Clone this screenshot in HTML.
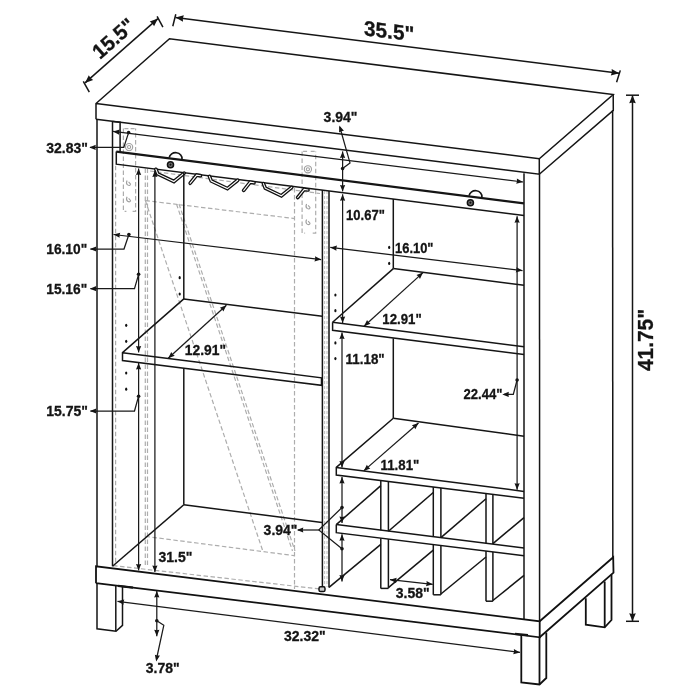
<!DOCTYPE html>
<html><head><meta charset="utf-8"><style>
html,body{margin:0;padding:0;background:#fff;width:700px;height:700px;overflow:hidden}
svg{display:block;filter:grayscale(1)}
text{font-family:"Liberation Sans",sans-serif;font-weight:bold;fill:#141414;stroke:#141414;stroke-width:0.3}
.kb{stroke:#111;stroke-width:1.8;fill:none;stroke-linejoin:miter}
.k{stroke:#151515;stroke-width:1.5;fill:none;stroke-linejoin:miter}
.k2{stroke:#151515;stroke-width:2.2;fill:none}
.k3{stroke:#151515;stroke-width:2.4;fill:none}
.d{stroke:#1a1a1a;stroke-width:1.25;fill:none}
.ah{fill:#151515;stroke:none}
.dt{fill:#151515}
.g{stroke:#adadad;stroke-width:1.2;fill:none;stroke-dasharray:4.5 2.5}
.g2{stroke:#b8b8b8;stroke-width:0.9;fill:none;stroke-dasharray:3 2}
.gs{stroke:#b0b0b0;stroke-width:0.9;fill:none}
.gs2{stroke:#a0a0a0;stroke-width:1.1;fill:none}
.kn{stroke:#151515;stroke-width:1.7;fill:none}
.w1{stroke:#111;stroke-width:3.7;fill:none;stroke-linejoin:miter;stroke-linecap:round}
.w2{stroke:#fff;stroke-width:1.1;fill:none;stroke-linejoin:miter;stroke-linecap:round}
</style></head><body>
<svg width="700" height="700" viewBox="0 0 700 700">
<rect width="700" height="700" fill="#fff"/>
<line class="g" x1="115.6" y1="165.7" x2="115.6" y2="566" />
<line class="g" x1="145.3" y1="168.6" x2="145.3" y2="566" />
<line class="g" x1="147.5" y1="168.6" x2="147.5" y2="566" />
<line class="g" x1="145.4" y1="200.6" x2="295" y2="218.6" />
<line class="g" x1="294.5" y1="188" x2="294.5" y2="589" />
<line class="g" x1="145.4" y1="200.6" x2="262.7" y2="550.7" />
<line class="g" x1="176.5" y1="204" x2="292.5" y2="551" />
<line class="g" x1="179" y1="204" x2="295" y2="551" />
<line class="g" x1="145.5" y1="536.4" x2="294" y2="555.6" />
<line class="g" x1="113.1" y1="565.6" x2="320" y2="589" />
<line class="g2" x1="324.6" y1="191" x2="324.6" y2="587" />
<line class="g2" x1="327" y1="191" x2="327" y2="587" />
<line class="g" x1="150" y1="171" x2="320" y2="193.5" />
<path class="g" d="M123.4,128.6 V211.4 h3 M132.6,211.4 h3 V128.6"/>
<path class="g" d="M124.4,128.6 h4 M130.6,128.6 h4"/>
<circle class="gs2" cx="129.1" cy="147.1" r="3.6"/><circle class="gs2" cx="129.1" cy="147.1" r="1.6"/>
<path class="gs2" d="M127.1,180.4 q-1.5,3 0.5,4.5 q2.5,1.5 3,-1 M128.6,181.9 l2,2.2"/>
<path class="gs2" d="M127.1,196.8 q-1.5,3 0.5,4.5 q2.5,1.5 3,-1 M128.6,198.3 l2,2.2"/>
<path class="g" d="M302.1,151.4 V233.2 h3 M312.7,233.2 h3 V151.4"/>
<path class="g" d="M303.1,151.4 h4 M310.7,151.4 h4"/>
<circle class="gs2" cx="307.9" cy="169.3" r="3.6"/><circle class="gs2" cx="307.9" cy="169.3" r="1.6"/>
<path class="gs2" d="M306.6,203.9 q-1.5,3 0.5,4.5 q2.5,1.5 3,-1 M308.1,205.4 l2,2.2"/>
<path class="gs2" d="M306.6,219.6 q-1.5,3 0.5,4.5 q2.5,1.5 3,-1 M308.1,221.1 l2,2.2"/>
<polyline class="k" points="96,119.3 96,103.5 169.5,38.8 613.2,94.6 539.3,158.7 96,103.5"/>
<polyline class="k" points="96,119.3 539.3,174.2 539.3,158.7"/>
<polyline class="k" points="613.2,94.6 613.3,110.3 539.3,174.2"/>
<line class="k" x1="97" y1="119.3" x2="97" y2="566.3" />
<line class="k" x1="112.5" y1="121.6" x2="112.5" y2="566.3" />
<polyline class="k" points="112.5,121.6 120.1,122.3 120.1,151.5"/>
<line class="k" x1="539.5" y1="174.2" x2="539.6" y2="621.3" />
<line class="k" x1="612.6" y1="110.3" x2="612.8" y2="557.2" />
<line class="k" x1="524" y1="173.3" x2="524" y2="620" />
<polyline class="kb" points="96,583.2 96,566.3 539.7,621.3 539.7,637.3 96,583.2"/>
<polyline class="kb" points="539.7,621.3 613.2,557.2 613.5,572.6 539.7,637.3"/>
<polyline class="k" points="97,583.5 97,628.8 116,631.3 122.5,625.3 122.5,586"/>
<line class="k" x1="115.8" y1="585.5" x2="115.8" y2="631" />
<line class="k2" x1="118" y1="585.8" x2="133" y2="587.6"/>
<polyline class="kb" points="521.3,635 521.3,682.5 539.5,684.5 546.3,678 546.3,632.5"/>
<line class="kb" x1="539.5" y1="637.3" x2="539.5" y2="684.5" />
<polyline class="kb" points="585.8,598.3 585.8,624.7 604.7,627.3 611.5,620 611.5,574.8"/>
<line class="kb" x1="604.7" y1="581.5" x2="604.7" y2="627.3" />
<line class="k2" x1="515" y1="633.8" x2="528" y2="635.2"/>
<line class="k3" x1="116.3" y1="151.6" x2="524" y2="203.4"/>
<polyline class="k" points="116.3,151.6 116.3,164.2 524,215.4"/>
<path class="kn" d="M169.2,157.7 A6.3,5.6 0 0,1 182,159.2"/>
<circle cx="170.5" cy="164.7" r="3.0" fill="#777" stroke="#111" stroke-width="1.6"/><circle cx="170.5" cy="164.7" r="1.1" fill="#111"/>
<path class="kn" d="M469.1,195.7 A6.3,5.6 0 0,1 481.9,197.2"/>
<circle cx="470.4" cy="202.7" r="3.0" fill="#777" stroke="#111" stroke-width="1.6"/><circle cx="470.4" cy="202.7" r="1.1" fill="#111"/>
<polyline class="w1" points="155.9,169.3 157.8,173.9 173.9,181.5 184.2,173.1"/>
<polyline class="w2" points="155.9,169.3 157.8,173.9 173.9,181.5 184.2,173.1"/>
<polyline class="w1" points="190.2,183.2 196.7,175.1 200.5,175.7"/>
<polyline class="w2" points="190.2,183.2 196.7,175.1 200.5,175.7"/>
<polyline class="w1" points="209.4,176.4 211.3,181 227.4,188.6 237.7,180.2"/>
<polyline class="w2" points="209.4,176.4 211.3,181 227.4,188.6 237.7,180.2"/>
<polyline class="w1" points="243.7,190.3 250.2,182.2 254,182.8"/>
<polyline class="w2" points="243.7,190.3 250.2,182.2 254,182.8"/>
<polyline class="w1" points="263.4,183.6 265.3,188.2 281.4,195.8 291.7,187.4"/>
<polyline class="w2" points="263.4,183.6 265.3,188.2 281.4,195.8 291.7,187.4"/>
<polyline class="w1" points="297.7,197.5 304.2,189.4 308,190"/>
<polyline class="w2" points="297.7,197.5 304.2,189.4 308,190"/>
<line class="k" x1="183.8" y1="172.6" x2="183.8" y2="298.9" />
<line class="k" x1="183.8" y1="368.2" x2="183.8" y2="504.8" />
<line class="k" x1="183.8" y1="298.9" x2="322.3" y2="316.3" />
<line class="k" x1="183.8" y1="504.8" x2="322" y2="522.6" />
<line class="k" x1="183.8" y1="504.8" x2="112.5" y2="566.3" />
<polyline class="k" points="183.8,298.9 122.5,352.7 122.5,360.5 321.5,385.3 321.5,377.8 122.5,352.7"/>
<line class="k" x1="322.4" y1="190" x2="322.4" y2="587.4" />
<line class="k" x1="329" y1="191" x2="329" y2="587.4" />
<rect x="319" y="586.8" width="6" height="4.8" rx="1.6" fill="#ccc" stroke="#111" stroke-width="1.5"/>
<line class="k" x1="393.3" y1="199" x2="393.3" y2="268.6" />
<line class="k" x1="393.3" y1="338.4" x2="393.3" y2="418.2" />
<line class="k" x1="393.3" y1="268.6" x2="524" y2="285.2" />
<line class="k" x1="393.3" y1="418.2" x2="524" y2="436.3" />
<polyline class="k" points="332.6,322.2 332.6,330.3 524,354.6"/>
<line class="k" x1="332.6" y1="322.2" x2="524" y2="346.8" />
<line class="k" x1="393.3" y1="268.6" x2="332.6" y2="322.2" />
<polyline class="k" points="393.3,418.2 336.3,467.4 336.3,475.1 524,498.3"/>
<line class="k" x1="336.3" y1="467.4" x2="524" y2="491.4" />
<polyline class="k" points="336.3,524.6 336.3,532.7 524,555.7"/>
<line class="k" x1="336.3" y1="524.6" x2="524" y2="548" />
<line class="k" x1="380.8" y1="480.6" x2="380.8" y2="530.15" />
<line class="k" x1="388.4" y1="481.54" x2="388.4" y2="531.1" />
<line class="k" x1="380.8" y1="538.15" x2="380.8" y2="588.4" />
<line class="k" x1="388.4" y1="539.08" x2="388.4" y2="588.4" />
<line class="k" x1="380.8" y1="588.4" x2="388.4" y2="588.4" />
<line class="k" x1="433.3" y1="487.09" x2="433.3" y2="536.69" />
<line class="k" x1="440.9" y1="488.03" x2="440.9" y2="537.64" />
<line class="k" x1="433.3" y1="544.59" x2="433.3" y2="594.8" />
<line class="k" x1="440.9" y1="545.52" x2="440.9" y2="594.8" />
<line class="k" x1="433.3" y1="594.8" x2="440.9" y2="594.8" />
<line class="k" x1="486" y1="493.6" x2="486" y2="543.26" />
<line class="k" x1="492.9" y1="494.46" x2="492.9" y2="544.12" />
<line class="k" x1="486" y1="551.04" x2="486" y2="601.2" />
<line class="k" x1="492.9" y1="551.89" x2="492.9" y2="601.2" />
<line class="k" x1="486" y1="601.2" x2="492.9" y2="601.2" />
<line class="k" x1="336.3" y1="524.6" x2="380.8" y2="485.6" />
<line class="k" x1="388.4" y1="531.2" x2="433.3" y2="492.5" />
<line class="k" x1="440.9" y1="537.6" x2="486" y2="498.8" />
<line class="k" x1="492.9" y1="543.6" x2="524" y2="517.6" />
<line class="k" x1="329" y1="587.4" x2="380.8" y2="544.4" />
<line class="k" x1="388.4" y1="587.6" x2="433.3" y2="550.2" />
<line class="k" x1="440.9" y1="594" x2="486" y2="557" />
<line class="k" x1="492.9" y1="600.5" x2="524" y2="575.4" />
<line class="k" x1="175.5" y1="17.6" x2="619.2" y2="73.2" />
<polygon class="ah" points="175.5,17.6 183.85,15.32 182.8,18.52 183.03,21.87"/>
<polygon class="ah" points="619.2,73.2 610.85,75.48 611.9,72.28 611.67,68.93"/>
<line class="k" x1="175.8" y1="14.2" x2="172.8" y2="26.2" />
<line class="k" x1="620.3" y1="70.4" x2="616.6" y2="82.2" />
<line class="k" x1="85" y1="82.9" x2="157.9" y2="18.6" />
<polygon class="ah" points="85,82.9 88.82,75.13 90.52,78.03 93.18,80.08"/>
<polygon class="ah" points="157.9,18.6 154.08,26.37 152.38,23.47 149.72,21.42"/>
<line class="k" x1="83.3" y1="81.4" x2="89.3" y2="92.1" />
<line class="k" x1="157.1" y1="16.4" x2="162.9" y2="27.1" />
<line class="k" x1="632.5" y1="95.2" x2="632.5" y2="621.3" />
<polygon class="ah" points="632.5,95.2 635.8,103.2 632.5,102.56 629.2,103.2"/>
<polygon class="ah" points="632.5,621.3 629.2,613.3 632.5,613.94 635.8,613.3"/>
<line class="k" x1="626" y1="95.2" x2="639" y2="95.2" />
<line class="k" x1="626" y1="621.3" x2="639" y2="621.3" />
<line class="d" x1="113" y1="131.4" x2="523" y2="182" />
<polygon class="ah" points="113,131.4 119.77,129.62 118.93,132.13 119.13,134.78"/>
<polygon class="ah" points="523,182 516.23,183.78 517.07,181.27 516.87,178.62"/>
<circle class="dt" cx="128.6" cy="132.6" r="1.8"/>
<polyline class="d" points="128.6,132.6 123.8,147.4 90,147.4"/>
<polygon class="ah" points="89.3,147.4 95.8,144.8 95.28,147.4 95.8,150"/>
<line class="d" x1="342.6" y1="151.4" x2="342.6" y2="191.4" />
<polygon class="ah" points="342.6,151.4 345.2,157.9 342.6,157.38 340,157.9"/>
<polygon class="ah" points="342.6,191.4 340,184.9 342.6,185.42 345.2,184.9"/>
<polygon class="ah" points="342.6,194.3 345.2,200.8 342.6,200.28 340,200.8"/>
<circle class="dt" cx="342.6" cy="168.6" r="1.8"/>
<polyline class="d" points="342.6,168.6 350,162.9 339.8,127"/>
<polygon class="ah" points="339.3,125.5 343.95,130.74 341.33,131.13 339.06,132.5"/>
<line class="d" x1="342.6" y1="194.3" x2="342.6" y2="323" />
<polygon class="ah" points="342.6,323 340,316.5 342.6,317.02 345.2,316.5"/>
<line class="d" x1="113.5" y1="234.5" x2="321.2" y2="259.6" />
<polygon class="ah" points="113.5,234.5 120.26,232.7 119.44,235.22 119.64,237.86"/>
<polygon class="ah" points="321.2,259.6 314.44,261.4 315.26,258.88 315.06,256.24"/>
<circle class="dt" cx="128.9" cy="234.5" r="1.8"/>
<polyline class="d" points="128.9,234.5 124,249 90.5,249"/>
<polygon class="ah" points="89.8,249 96.3,246.4 95.78,249 96.3,251.6"/>
<line class="d" x1="138.6" y1="168.5" x2="138.6" y2="352.4" />
<polygon class="ah" points="138.6,168.5 141.2,175 138.6,174.48 136,175"/>
<polygon class="ah" points="138.6,352.4 136,345.9 138.6,346.42 141.2,345.9"/>
<line class="d" x1="138.6" y1="363" x2="138.6" y2="570.4" />
<polygon class="ah" points="138.6,363 141.2,369.5 138.6,368.98 136,369.5"/>
<polygon class="ah" points="138.6,570.4 136,563.9 138.6,564.42 141.2,563.9"/>
<circle class="dt" cx="138.6" cy="274.3" r="1.8"/>
<polyline class="d" points="138.6,274.3 134.5,288.7 90.5,288.7"/>
<polygon class="ah" points="89.8,288.7 96.3,286.1 95.78,288.7 96.3,291.3"/>
<circle class="dt" cx="138.6" cy="396.2" r="1.8"/>
<polyline class="d" points="138.6,396.2 134.5,411 90.5,411"/>
<polygon class="ah" points="89.8,411 96.3,408.4 95.78,411 96.3,413.6"/>
<line class="d" x1="154.9" y1="170.5" x2="154.9" y2="572" />
<polygon class="ah" points="154.9,170.5 157.5,177 154.9,176.48 152.3,177"/>
<polygon class="ah" points="154.9,572 152.3,565.5 154.9,566.02 157.5,565.5"/>
<line class="d" x1="168.2" y1="358.2" x2="226.4" y2="305.2" />
<polygon class="ah" points="168.2,358.2 171.26,351.9 172.62,354.17 174.76,355.75"/>
<polygon class="ah" points="226.4,305.2 223.34,311.5 221.98,309.23 219.84,307.65"/>
<line class="d" x1="330.3" y1="247.4" x2="522.5" y2="270.6" />
<polygon class="ah" points="330.3,247.4 337.06,245.6 336.24,248.12 336.44,250.76"/>
<polygon class="ah" points="522.5,270.6 515.74,272.4 516.56,269.88 516.36,267.24"/>
<line class="d" x1="364" y1="326.2" x2="423" y2="272.6" />
<polygon class="ah" points="364,326.2 367.06,319.9 368.43,322.18 370.56,323.75"/>
<polygon class="ah" points="423,272.6 419.94,278.9 418.57,276.62 416.44,275.05"/>
<line class="d" x1="342" y1="332.6" x2="342" y2="467.4" />
<polygon class="ah" points="342,332.6 344.6,339.1 342,338.58 339.4,339.1"/>
<polygon class="ah" points="342,467.4 339.4,460.9 342,461.42 344.6,460.9"/>
<line class="d" x1="342" y1="477" x2="342" y2="522.9" />
<polygon class="ah" points="342,477 344.6,483.5 342,482.98 339.4,483.5"/>
<polygon class="ah" points="342,522.9 339.4,516.4 342,516.92 344.6,516.4"/>
<line class="d" x1="342" y1="534.3" x2="342" y2="581.5" />
<polygon class="ah" points="342,534.3 344.6,540.8 342,540.28 339.4,540.8"/>
<polygon class="ah" points="342,581.5 339.4,575 342,575.52 344.6,575"/>
<circle class="dt" cx="342" cy="507.5" r="1.8"/>
<circle class="dt" cx="342" cy="548.7" r="1.8"/>
<polyline class="d" points="342,507.5 318.8,530 342,548.7"/>
<line class="d" x1="318.8" y1="530" x2="298" y2="530" />
<polygon class="ah" points="296.8,530 303.3,527.4 302.78,530 303.3,532.6"/>
<line class="d" x1="517.1" y1="216.3" x2="517.1" y2="489.8" />
<polygon class="ah" points="517.1,216.3 519.7,222.8 517.1,222.28 514.5,222.8"/>
<polygon class="ah" points="517.1,489.8 514.5,483.3 517.1,483.82 519.7,483.3"/>
<circle class="dt" cx="517.1" cy="380" r="1.8"/>
<polyline class="d" points="517.1,380 513.3,394.4 504,394.4"/>
<polygon class="ah" points="502.3,394.4 508.8,391.8 508.48,394.4 508.8,397"/>
<line class="d" x1="363.7" y1="470.9" x2="418.5" y2="423" />
<polygon class="ah" points="363.7,470.9 366.88,464.66 368.2,466.96 370.31,468.58"/>
<polygon class="ah" points="418.5,423 415.32,429.24 414,426.94 411.89,425.32"/>
<line class="d" x1="390" y1="579.7" x2="432.7" y2="584.3" />
<polygon class="ah" points="390,579.7 396.74,577.81 395.95,580.34 396.18,582.98"/>
<polygon class="ah" points="432.7,584.3 425.96,586.19 426.75,583.66 426.52,581.02"/>
<line class="d" x1="117.5" y1="601.3" x2="520" y2="652.4" />
<polygon class="ah" points="117.5,601.3 124.28,599.54 123.43,602.05 123.62,604.7"/>
<polygon class="ah" points="520,652.4 513.22,654.16 514.07,651.65 513.88,649"/>
<line class="d" x1="156.8" y1="591" x2="156.8" y2="636.3" />
<polygon class="ah" points="156.8,591 159.4,597.5 156.8,596.98 154.2,597.5"/>
<polygon class="ah" points="156.8,636.3 154.2,629.8 156.8,630.32 159.4,629.8"/>
<circle class="dt" cx="156.8" cy="620.8" r="1.8"/>
<polyline class="d" points="156.8,620.8 163.8,625.3 156.5,659"/>
<polygon class="ah" points="156.2,661.5 154.86,654.63 157.31,655.62 159.96,655.6"/>
<ellipse cx="126.2" cy="325.3" rx="1.1" ry="1.6" fill="#111"/>
<ellipse cx="126.2" cy="341.3" rx="1.1" ry="1.6" fill="#111"/>
<ellipse cx="126.2" cy="373" rx="1.1" ry="1.6" fill="#111"/>
<ellipse cx="126.2" cy="389.2" rx="1.1" ry="1.6" fill="#111"/>
<ellipse cx="179.7" cy="277.7" rx="1.1" ry="1.6" fill="#111"/>
<ellipse cx="179.7" cy="294" rx="1.1" ry="1.6" fill="#111"/>
<ellipse cx="389.2" cy="247.4" rx="1.1" ry="1.6" fill="#111"/>
<ellipse cx="389.2" cy="263.4" rx="1.1" ry="1.6" fill="#111"/>
<ellipse cx="335.4" cy="295" rx="1.1" ry="1.6" fill="#111"/>
<ellipse cx="335.4" cy="310.7" rx="1.1" ry="1.6" fill="#111"/>
<ellipse cx="335.4" cy="342.9" rx="1.1" ry="1.6" fill="#111"/>
<ellipse cx="335.4" cy="358.6" rx="1.1" ry="1.6" fill="#111"/>
<text transform="translate(46.3,153.4)  scale(1.0,1)" font-size="14" text-anchor="start">32.83&quot;</text>
<text transform="translate(46.3,253.8)  scale(0.98,1)" font-size="14" text-anchor="start">16.10&quot;</text>
<text transform="translate(46.3,293.5)  scale(0.98,1)" font-size="14" text-anchor="start">15.16&quot;</text>
<text transform="translate(46.3,415.8)  scale(1.0,1)" font-size="14" text-anchor="start">15.75&quot;</text>
<text transform="translate(184.8,355)  scale(0.99,1)" font-size="14" text-anchor="start">12.91&quot;</text>
<text transform="translate(323.6,122.4)  scale(1.0,1)" font-size="14" text-anchor="start">3.94&quot;</text>
<text transform="translate(346.1,219.7)  scale(0.93,1)" font-size="14" text-anchor="start">10.67&quot;</text>
<text transform="translate(395.1,252.8)  scale(0.92,1)" font-size="14" text-anchor="start">16.10&quot;</text>
<text transform="translate(382.3,324)  scale(0.945,1)" font-size="14" text-anchor="start">12.91&quot;</text>
<text transform="translate(345.6,364.4)  scale(0.957,1)" font-size="14" text-anchor="start">11.18&quot;</text>
<text transform="translate(463.5,399.4)  scale(0.936,1)" font-size="14" text-anchor="start">22.44&quot;</text>
<text transform="translate(380.6,469.9)  scale(0.947,1)" font-size="14" text-anchor="start">11.81&quot;</text>
<text transform="translate(297.5,535.2)  scale(1.0,1)" font-size="14" text-anchor="end">3.94&quot;</text>
<text transform="translate(158.5,562)  scale(1.0,1)" font-size="14" text-anchor="start">31.5&quot;</text>
<text transform="translate(395.7,597.8)  scale(1.0,1)" font-size="14" text-anchor="start">3.58&quot;</text>
<text transform="translate(284,640.8)  scale(1.0,1)" font-size="14" text-anchor="start">32.32&quot;</text>
<text transform="translate(145.8,672.8)  scale(1.0,1)" font-size="14" text-anchor="start">3.78&quot;</text>
<text transform="translate(364,35.3) skewY(7) scale(0.99,1)" font-size="21" text-anchor="start">35.5&quot;</text>
<text transform="translate(100,60) rotate(-41.4) scale(0.96,1)" font-size="21" text-anchor="start">15.5&quot;</text>
<text transform="translate(653.3,340) rotate(-90) scale(0.95,1)" font-size="22" text-anchor="middle">41.75&quot;</text>
</svg></body></html>
